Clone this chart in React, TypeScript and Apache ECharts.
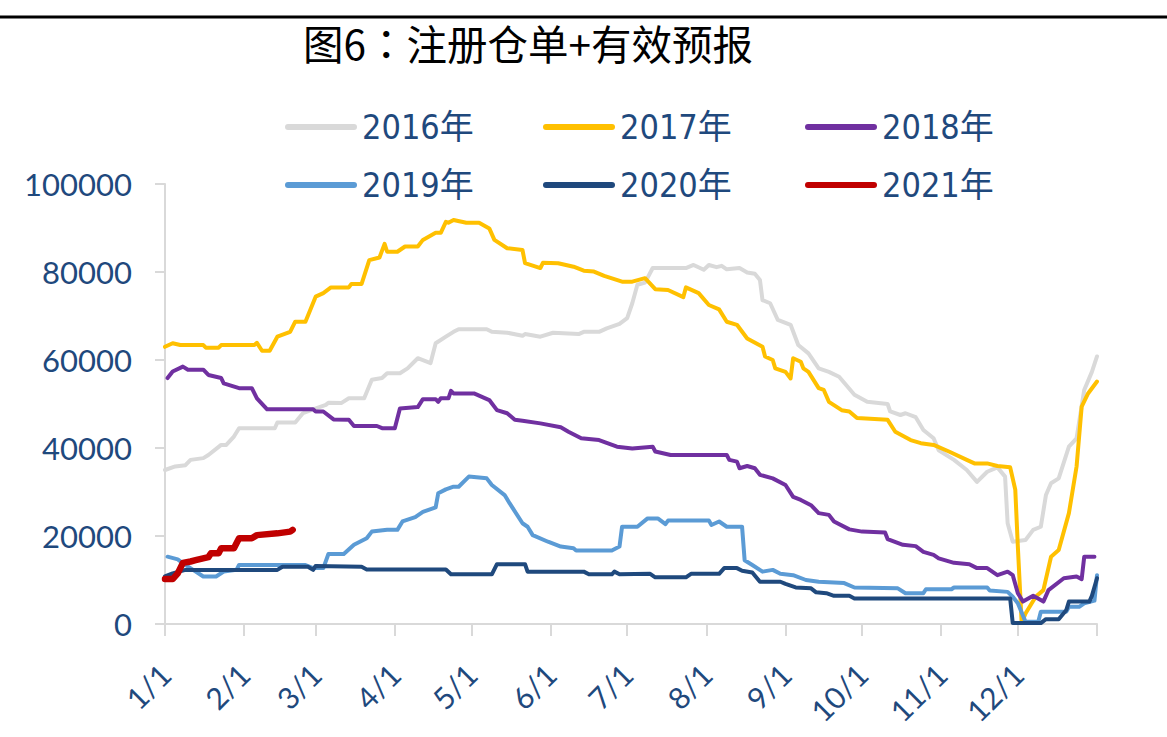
import React, { useEffect, useRef } from "react";
import * as echarts from "echarts";

// Day-of-year (0 = 1/1, 365 = 12/31 end) and value pairs
const s2016: [number, number][] = [[0,35000],[4,35800],[8,36100],[10,37300],[15,37700],[17,38400],[22,40700],[24,40700],[27,42600],[29,44500],[43,44500],[44,45800],[51,45800],[54,47900],[58,48800],[63,49800],[64,50300],[69,50200],[72,51300],[78,51300],[81,55500],[85,55900],[87,57000],[92,57000],[95,58100],[99,60400],[104,59300],[106,63800],[110,65300],[113,66400],[115,67000],[126,67000],[128,66400],[134,66200],[140,65500],[141,65900],[147,65300],[152,66200],[162,65900],[164,66400],[170,66400],[173,67200],[178,68200],[181,69500],[183,72900],[185,77100],[188,77600],[191,80900],[204,80900],[207,81600],[211,80500],[213,81600],[216,81100],[218,81400],[220,80600],[225,80900],[228,79900],[231,79600],[233,78200],[234,73600],[237,72900],[240,69100],[245,68000],[248,63400],[252,61500],[256,58100],[260,57300],[264,56200],[270,52100],[275,50500],[283,50000],[284,48300],[288,47500],[290,47900],[294,47000],[297,44100],[301,42200],[303,39500],[309,37300],[314,35000],[318,32300],[322,34600],[326,35600],[329,33500],[330,22900],[332,18700],[337,19100],[340,21400],[343,22100],[345,29300],[347,32000],[350,33100],[354,40300],[357,42200],[360,53200],[363,57300],[365,60800]];

const s2017: [number, number][] = [[0,63000],[3,63800],[6,63400],[15,63400],[16,62800],[21,62800],[22,63400],[35,63400],[36,63900],[38,62100],[41,62100],[44,65300],[49,66400],[51,68700],[55,68700],[59,74400],[62,75200],[65,76500],[72,76500],[73,77300],[77,77300],[80,82700],[84,83300],[86,86400],[87,84600],[91,84600],[94,85800],[99,85800],[101,87300],[106,88900],[108,88900],[110,91400],[111,91200],[113,91800],[118,91200],[123,91200],[127,89900],[129,87300],[134,85400],[140,85000],[141,82000],[147,80900],[148,82100],[154,82000],[160,81200],[164,80300],[168,80100],[172,79100],[179,77800],[183,77800],[188,78600],[192,76100],[197,75900],[203,74300],[204,76500],[209,75200],[213,72500],[217,71500],[220,68700],[224,68000],[228,64900],[234,63000],[235,60800],[238,60000],[239,58100],[243,57300],[245,55800],[246,60400],[249,59600],[250,58100],[252,57300],[256,53600],[258,53200],[260,50500],[265,48600],[268,48300],[271,46800],[283,46400],[286,43700],[292,41800],[296,41100],[301,40700],[307,39200],[314,37300],[317,36500],[322,36500],[326,35900],[331,35600],[333,30500],[334,17600],[335.5,200],[337,2400],[341,6200],[344,7700],[347,15300],[350,16800],[354,25200],[357,35800],[359,49400],[361.5,52400],[365,55100]];

const s2018: [number, number][] = [[1,55900],[3,57400],[7,58500],[9,57800],[15,57800],[17,56600],[22,55900],[23,54700],[29,53600],[34,53600],[36,51300],[40,48800],[58,48800],[59,48300],[62,48300],[66,46500],[72,46400],[74,45000],[83,45000],[85,44500],[90,44500],[92,49000],[99,49300],[101,51100],[106,51100],[107,50500],[108,51300],[111,51300],[112,53000],[113,52400],[121,52400],[127,50900],[130,48600],[134,47900],[137,46400],[140,46200],[147,45600],[155,44700],[158,43700],[163,42200],[170,41800],[177,40300],[183,39900],[191,40300],[192,39200],[198,38400],[220,38400],[221,37300],[224,36900],[225,35400],[228,35900],[231,35400],[233,33900],[238,33100],[243,31600],[246,28900],[249,28200],[253,27000],[256,25200],[260,24800],[262,23300],[268,21500],[273,21000],[282,20800],[283,19300],[289,18000],[294,17700],[297,16400],[301,15700],[303,14900],[309,13900],[315,13600],[318,12700],[322,12700],[326,11100],[330,11900],[332,11100],[334,7000],[336,5100],[340,6400],[344,5100],[346,7700],[352,10400],[357,10800],[359,10200],[360,15300],[364,15300]];

const s2019: [number, number][] = [[1,15300],[5,14700],[7,13800],[11,12300],[15,10800],[20,10800],[23,11900],[28,12300],[29,13400],[55,13400],[58,12700],[62,12700],[64,15900],[70,15900],[74,18000],[79,19500],[81,21000],[87,21400],[91,21400],[93,23300],[98,24300],[101,25500],[106,26500],[107,29700],[110,30600],[113,31200],[115,31200],[119,33500],[126,33100],[128,31600],[133,29300],[135,27400],[140,22900],[142,22100],[144,20200],[150,18700],[155,17600],[160,17200],[161,16700],[175,16700],[178,17600],[179,22100],[185,22100],[189,24000],[193,24000],[196,22700],[197,23500],[213,23500],[214,22500],[217,23300],[220,22100],[226,22100],[227,14500],[230,13400],[234,11900],[238,12300],[241,11400],[246,11100],[251,10000],[256,9600],[266,9300],[270,8300],[287,8100],[290,7000],[297,7000],[298,7900],[308,7900],[309,8300],[322,8300],[323,7600],[330,7300],[332,6200],[334,4700],[337,500],[342,500],[343,2800],[353,2800],[354,3900],[358,3900],[360,4700],[364,5300],[365,11100]];

const s2020: [number, number][] = [[0,10800],[3,11500],[8,12300],[44,12300],[46,13000],[56,13000],[58,12300],[59,13200],[77,13000],[79,12400],[110,12400],[112,11300],[128,11300],[130,13600],[141,13600],[142,11900],[164,11900],[166,11300],[175,11300],[176,11900],[178,11300],[190,11400],[192,10600],[204,10600],[206,11400],[217,11400],[219,12700],[224,12700],[226,12100],[230,11700],[233,9600],[241,9600],[243,9100],[247,8300],[253,8100],[255,7200],[259,7000],[262,6400],[268,6400],[270,5800],[331,5800],[332,200],[343,200],[345,1100],[350,1100],[353,3200],[354,5100],[362,5100],[363,6400],[365,10400]];

const s2021: [number, number][] = [[0,10200],[3,10200],[5,11500],[7,13900],[10,14200],[12,14500],[17,15200],[18,16100],[21,16100],[22,17200],[27,17200],[29,19500],[34,19500],[36,20200],[44,20600],[49,21000],[50,21400]];

const seriesNames = ["2016年", "2017年", "2018年", "2019年", "2020年", "2021年"];
const seriesData = [s2016, s2017, s2018, s2019, s2020, s2021];
const seriesColors = ["#d9d9d9", "#ffc000", "#7030a0", "#5b9bd5", "#1f497d", "#c00000"];
const seriesWidths = [4, 4, 4, 4, 4, 6.5];

const monthStartDays = [0, 31, 59, 90, 120, 151, 181, 212, 243, 273, 304, 334];
const xTickLabels = ["1/1", "2/1", "3/1", "4/1", "5/1", "6/1", "7/1", "8/1", "9/1", "10/1", "11/1", "12/1"];
const yearEndDay = 365;
const yTicks = [0, 20000, 40000, 60000, 80000, 100000];

const titleText = "图6：注册仓单+有效预报";

const legendPos = [
  [285, 110], [543, 110], [805, 110],
  [285, 168], [543, 168], [805, 168],
];

const textBlue = "#1f497d";
const axisGray = "#d9d9d9";
const pill = "path://M3,0 L69,0 A3,3 0 0 1 69,6 L3,6 A3,3 0 0 1 3,0 Z";

export default function App() {
  const ref = useRef<HTMLDivElement>(null);
  useEffect(() => {
    if (!ref.current) return;
    const chart = echarts.init(ref.current, null, { renderer: "svg" });
    const option: any = {
      animation: false,
      backgroundColor: "#ffffff",
      title: {
        text: titleText,
        left: 303,
        top: 22,
        padding: 0,
        textStyle: {
          fontFamily: "'Noto Sans CJK TC', 'Noto Sans CJK SC', sans-serif",
          fontSize: 40.5,
          fontWeight: "normal",
          color: "#000000",
        },
      },
      legend: seriesNames.map((n, i) => ({
        data: [{ name: n, icon: pill }],
        left: legendPos[i][0],
        top: legendPos[i][1],
        padding: 0,
        itemWidth: 72,
        itemHeight: i === 5 ? 8 : 6,
        textStyle: {
          fontFamily: "'Liberation Sans Narrow', 'DejaVu Sans Condensed', 'Noto Sans CJK SC', sans-serif",
          fontSize: 34,
          color: textBlue,
        },
      })),
      grid: {
        left: 165,
        right: 70,
        top: 184,
        bottom: 113,
        containLabel: false,
        outerBoundsMode: "none",
      },
      xAxis: {
        type: "value",
        min: 0,
        max: yearEndDay,
        splitLine: { show: false },
        axisLine: { show: true, lineStyle: { color: axisGray, width: 2 } },
        axisTick: {
          show: true,
          length: 12,
          customValues: [...monthStartDays, yearEndDay],
          lineStyle: { color: axisGray, width: 2 },
        },
        axisLabel: {
          customValues: monthStartDays,
          rotate: 45,
          margin: 45,
          fontFamily: "Lato, sans-serif",
          fontSize: 30,
          color: textBlue,
          formatter: (v: number) => {
            const k = monthStartDays.indexOf(Math.round(v));
            return k >= 0 ? xTickLabels[k] : "";
          },
        },
      },
      yAxis: {
        type: "value",
        min: yTicks[0],
        max: yTicks[yTicks.length - 1],
        interval: yTicks[1] - yTicks[0],
        splitLine: { show: false },
        axisLine: { show: true, lineStyle: { color: axisGray, width: 2 } },
        axisTick: { show: true, length: 10, lineStyle: { color: axisGray, width: 2 } },
        axisLabel: {
          margin: 33,
          fontFamily: "Lato, sans-serif",
          fontSize: 31,
          color: textBlue,
          formatter: (v: number) => String(v),
        },
      },
      graphic: [
        {
          type: "line",
          shape: { x1: 0, y1: 17, x2: 1167, y2: 17 },
          style: { stroke: "#000000", lineWidth: 3 },
        },
      ],
      series: seriesNames.map((n, i) => ({
        name: n,
        type: "line",
        data: seriesData[i],
        symbol: "none",
        showSymbol: false,
        color: seriesColors[i],
        lineStyle: {
          color: seriesColors[i],
          width: seriesWidths[i],
          cap: "round",
          join: "round",
        },
        emphasis: { disabled: true },
      })),
    };
    chart.setOption(option);
    return () => chart.dispose();
  }, []);
  return (
    <div
      ref={ref}
      style={{ position: "fixed", left: 0, top: 0, width: 1167, height: 737, background: "#fff" }}
    />
  );
}
